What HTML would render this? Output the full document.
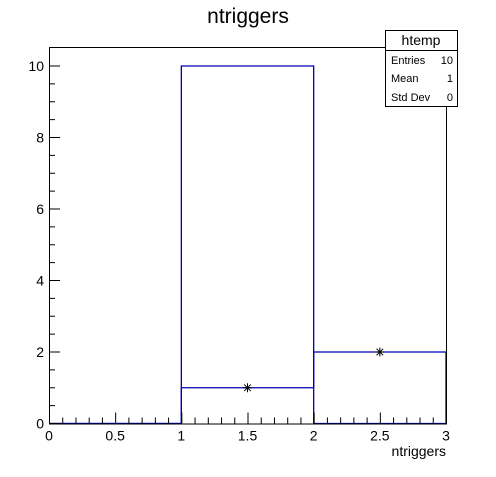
<!DOCTYPE html>
<html><head><meta charset="utf-8"><style>
html,body{margin:0;padding:0;background:#fff;}
svg text{font-family:"Liberation Sans",sans-serif;}
</style></head><body>
<svg id="c" width="496" height="472" xmlns="http://www.w3.org/2000/svg">
<rect width="496" height="472" fill="#fff"/>
<text x="248" y="23" font-size="21" text-anchor="middle">ntriggers</text>
<g id="plot"></g>
<g>
<rect x="385.5" y="30.5" width="72" height="76" fill="#fff" stroke="#000"/>
<line x1="385.5" y1="50.5" x2="457.5" y2="50.5" stroke="#000"/>
<text x="421" y="45" font-size="14" text-anchor="middle">htemp</text>
<text x="391" y="64" font-size="11">Entries</text><text x="453" y="64" font-size="11" text-anchor="end">10</text>
<text x="391" y="82" font-size="11">Mean</text><text x="453" y="82" font-size="11" text-anchor="end">1</text>
<text x="391" y="101" font-size="11">Std Dev</text><text x="453" y="101" font-size="11" text-anchor="end">0</text>
</g>
</svg>
<script>
const binEdges=[0,1,2,3];
const tallValues=[0,10,0];
const blueValues=[0,1,2];
const markerBins=[1,2];
const xTicks=[0,0.5,1,1.5,2,2.5,3];
const xTickLabels=["0","0.5","1","1.5","2","2.5","3"];
const yTicks=[0,2,4,6,8,10];
const yTickLabels=["0","2","4","6","8","10"];
const NS="http://www.w3.org/2000/svg";
const L=49,R=446,T=47,B=423.5;
const xs=v=>L+(R-L)*v/3;
const ys=v=>B-(B-66)*v/10;
const g=document.getElementById('plot');
function mk(t,a){const e=document.createElementNS(NS,t);for(const k in a)e.setAttribute(k,a[k]);g.appendChild(e);return e;}
function histPath(vals){let d='M'+xs(binEdges[0])+' '+ys(0);for(let i=0;i<vals.length;i++){d+=' L'+xs(binEdges[i])+' '+ys(vals[i])+' L'+xs(binEdges[i+1])+' '+ys(vals[i]);}d+=' L'+xs(binEdges[vals.length])+' '+ys(0);return d;}
let p1=mk('path',{d:histPath(tallValues),fill:'none',stroke:'#0000b0','stroke-width':1.3});


let p2=mk('path',{d:histPath(blueValues),fill:'none',stroke:'#0000b0','stroke-width':1.3});


markerBins.forEach(i=>{const cx=(xs(binEdges[i])+xs(binEdges[i+1]))/2,cy=ys(blueValues[i]),s=4.5;
const m=mk('path',{d:`M${cx-s} ${cy}L${cx+s} ${cy}M${cx} ${cy-s}L${cx} ${cy+s}M${cx-3.3} ${cy-3.3}L${cx+3.3} ${cy+3.3}M${cx-3.3} ${cy+3.3}L${cx+3.3} ${cy-3.3}`,stroke:'#000','stroke-width':1});

});
let fr=mk('rect',{x:L+.5,y:T+.5,width:R-L,height:B-T,fill:'none',stroke:'#000'});


for(let k=0;k<=30;k++){const v=k/10,x=xs(v)+.5,len=(k%5==0)?11:6;mk('line',{x1:x,y1:B,x2:x,y2:B-len,stroke:'#000'});}
xTicks.forEach((v,i)=>{const t=mk('text',{x:xs(v),y:B+17,'font-size':14,'text-anchor':'middle'});t.textContent=xTickLabels[i];

});
for(let k=0;k<=20;k++){const v=k/2,y=ys(v),len=(k%4==0)?11:6;mk('line',{x1:L,y1:y,x2:L+len,y2:y,stroke:'#000'});}
yTicks.forEach((v,i)=>{const t=mk('text',{x:L-5,y:ys(v)+5,'font-size':14,'text-anchor':'end'});t.textContent=yTickLabels[i];

});
const xt=mk('text',{x:446,y:456,'font-size':14,'text-anchor':'end'});xt.textContent='ntriggers';


</script>
</body></html>
